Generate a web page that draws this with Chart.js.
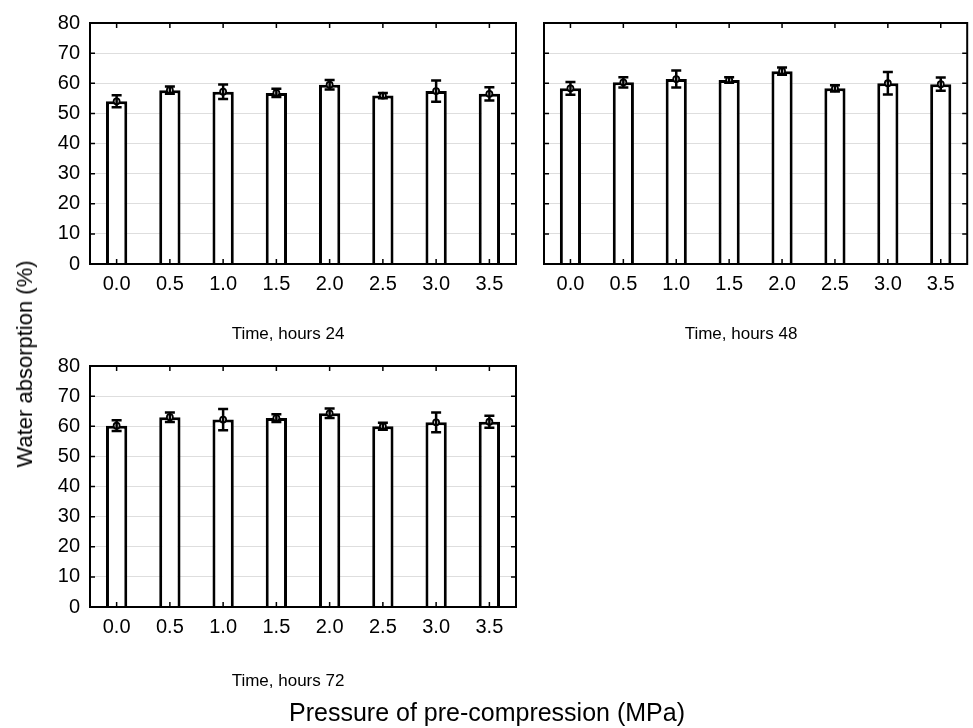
<!DOCTYPE html>
<html>
<head>
<meta charset="utf-8">
<script src="https://cdn.jsdelivr.net/npm/chart.js@4"></script>
<style>
  body { margin: 0; background: #fff; }
  #wrap { position: relative; width: 973px; height: 728px; overflow: hidden; font-family: "Liberation Sans", Arial, sans-serif; color: #000; }
  #wrap canvas { position: absolute; left: 0; top: 0; }
  .lbl { position: absolute; white-space: nowrap; transform: translate(-50%, -50%); }
</style>
</head>
<body>
<div id="wrap">
  <canvas id="c24" width="973" height="728"></canvas>
  <canvas id="c48" width="973" height="728"></canvas>
  <canvas id="c72" width="973" height="728"></canvas>
  <div class="lbl" style="left:288px;top:334px;font-size:17px">Time, hours 24</div>
  <div class="lbl" style="left:741px;top:334px;font-size:17px">Time, hours 48</div>
  <div class="lbl" style="left:288px;top:681px;font-size:17px">Time, hours 72</div>
  <div class="lbl" style="left:25px;top:364px;font-size:22px;transform:translate(-50%,-50%) rotate(-90deg)">Water absorption (%)</div>
  <div class="lbl" style="left:487px;top:712px;font-size:25px">Pressure of pre-compression (MPa)</div>
</div>
<script>
const pressures = ['0.0', '0.5', '1.0', '1.5', '2.0', '2.5', '3.0', '3.5'];

// water absorption means (%) and half error bars, per soaking time
const mean24 = [54.0, 57.7, 57.2, 56.8, 59.5, 55.9, 57.4, 56.5];
const err24  = [2.0, 1.2, 2.4, 1.4, 1.6, 0.9, 3.5, 2.2];
const mean48 = [58.3, 60.3, 61.4, 61.1, 64.0, 58.3, 60.0, 59.7];
const err48  = [2.1, 1.7, 2.8, 0.9, 1.2, 1.0, 3.7, 2.2];
const mean72 = [60.2, 63.0, 62.2, 62.7, 64.3, 60.0, 61.3, 61.5];
const err72  = [1.8, 1.6, 3.5, 1.3, 1.6, 1.2, 3.3, 2.0];

const yMin = 0, yMax = 80, yStep = 10;

const W = 973, H = 728;

// draws error bars, the box and the inward tick marks
const framePlugin = {
  id: 'frame',
  afterDatasetsDraw(chart, args, opts) {
    const ctx = chart.ctx;
    const a = chart.chartArea;
    const x = chart.scales.x, y = chart.scales.y;
    ctx.save();
    ctx.strokeStyle = '#000';

    ctx.lineWidth = 2.5;
    opts.means.forEach((m, i) => {
      const px = x.getPixelForValue(i);
      const top = y.getPixelForValue(m + opts.errs[i]);
      const bot = y.getPixelForValue(m - opts.errs[i]);
      ctx.beginPath();
      ctx.moveTo(px, top); ctx.lineTo(px, bot);
      ctx.moveTo(px - 5, top); ctx.lineTo(px + 5, top);
      ctx.moveTo(px - 5, bot); ctx.lineTo(px + 5, bot);
      ctx.stroke();
    });

    ctx.lineWidth = 2;
    ctx.strokeRect(a.left, a.top, a.right - a.left, a.bottom - a.top);

    ctx.lineWidth = 1.5;
    ctx.beginPath();
    for (let v = yMin; v <= yMax; v += yStep) {
      const py = y.getPixelForValue(v);
      ctx.moveTo(a.left, py); ctx.lineTo(a.left + 5, py);
      ctx.moveTo(a.right, py); ctx.lineTo(a.right - 5, py);
    }
    for (let i = 0; i < pressures.length; i++) {
      const px = x.getPixelForValue(i);
      ctx.moveTo(px, a.top); ctx.lineTo(px, a.top + 5);
      ctx.moveTo(px, a.bottom); ctx.lineTo(px, a.bottom - 5);
    }
    ctx.stroke();
    ctx.restore();
  }
};

function makePanel(id, box, means, errs, showY) {
  new Chart(document.getElementById(id), {
    type: 'bar',
    data: {
      labels: pressures,
      datasets: [
        {
          type: 'line',
          data: means,
          showLine: false,
          pointStyle: 'circle',
          pointRadius: 3,
          pointBackgroundColor: '#fff',
          pointBorderColor: '#000',
          pointBorderWidth: 1.8,
          order: 0
        },
        {
          data: means,
          backgroundColor: '#fff',
          borderColor: '#000',
          borderWidth: 3,
          barPercentage: 0.4,
          categoryPercentage: 1,
          order: 1
        }
      ]
    },
    options: {
      responsive: false,
      devicePixelRatio: 1,
      animation: false,
      events: [],
      layout: { padding: { left: 0, top: box.top, right: W - box.right, bottom: 0 } },
      plugins: {
        legend: { display: false },
        tooltip: { enabled: false },
        frame: { means: means, errs: errs }
      },
      scales: {
        x: {
          offset: true,
          grid: { display: false, drawTicks: false },
          border: { display: false },
          ticks: { color: '#000', padding: 8, font: { family: 'Liberation Sans', size: 20 } },
          afterFit: s => { s.height = H - box.bottom; }
        },
        y: {
          min: yMin,
          max: yMax,
          grid: { color: '#dedede', lineWidth: 1, drawTicks: false },
          border: { display: false },
          ticks: { display: showY, stepSize: yStep, color: '#000', padding: 10, font: { family: 'Liberation Sans', size: 20 } },
          afterFit: s => { s.width = box.left; }
        }
      }
    },
    plugins: [framePlugin]
  });
}

makePanel('c24', { left: 90, top: 23, right: 516, bottom: 264 }, mean24, err24, true);
makePanel('c48', { left: 544, top: 23, right: 968, bottom: 264 }, mean48, err48, false);
makePanel('c72', { left: 90, top: 366, right: 516, bottom: 607 }, mean72, err72, true);
</script>
</body>
</html>
